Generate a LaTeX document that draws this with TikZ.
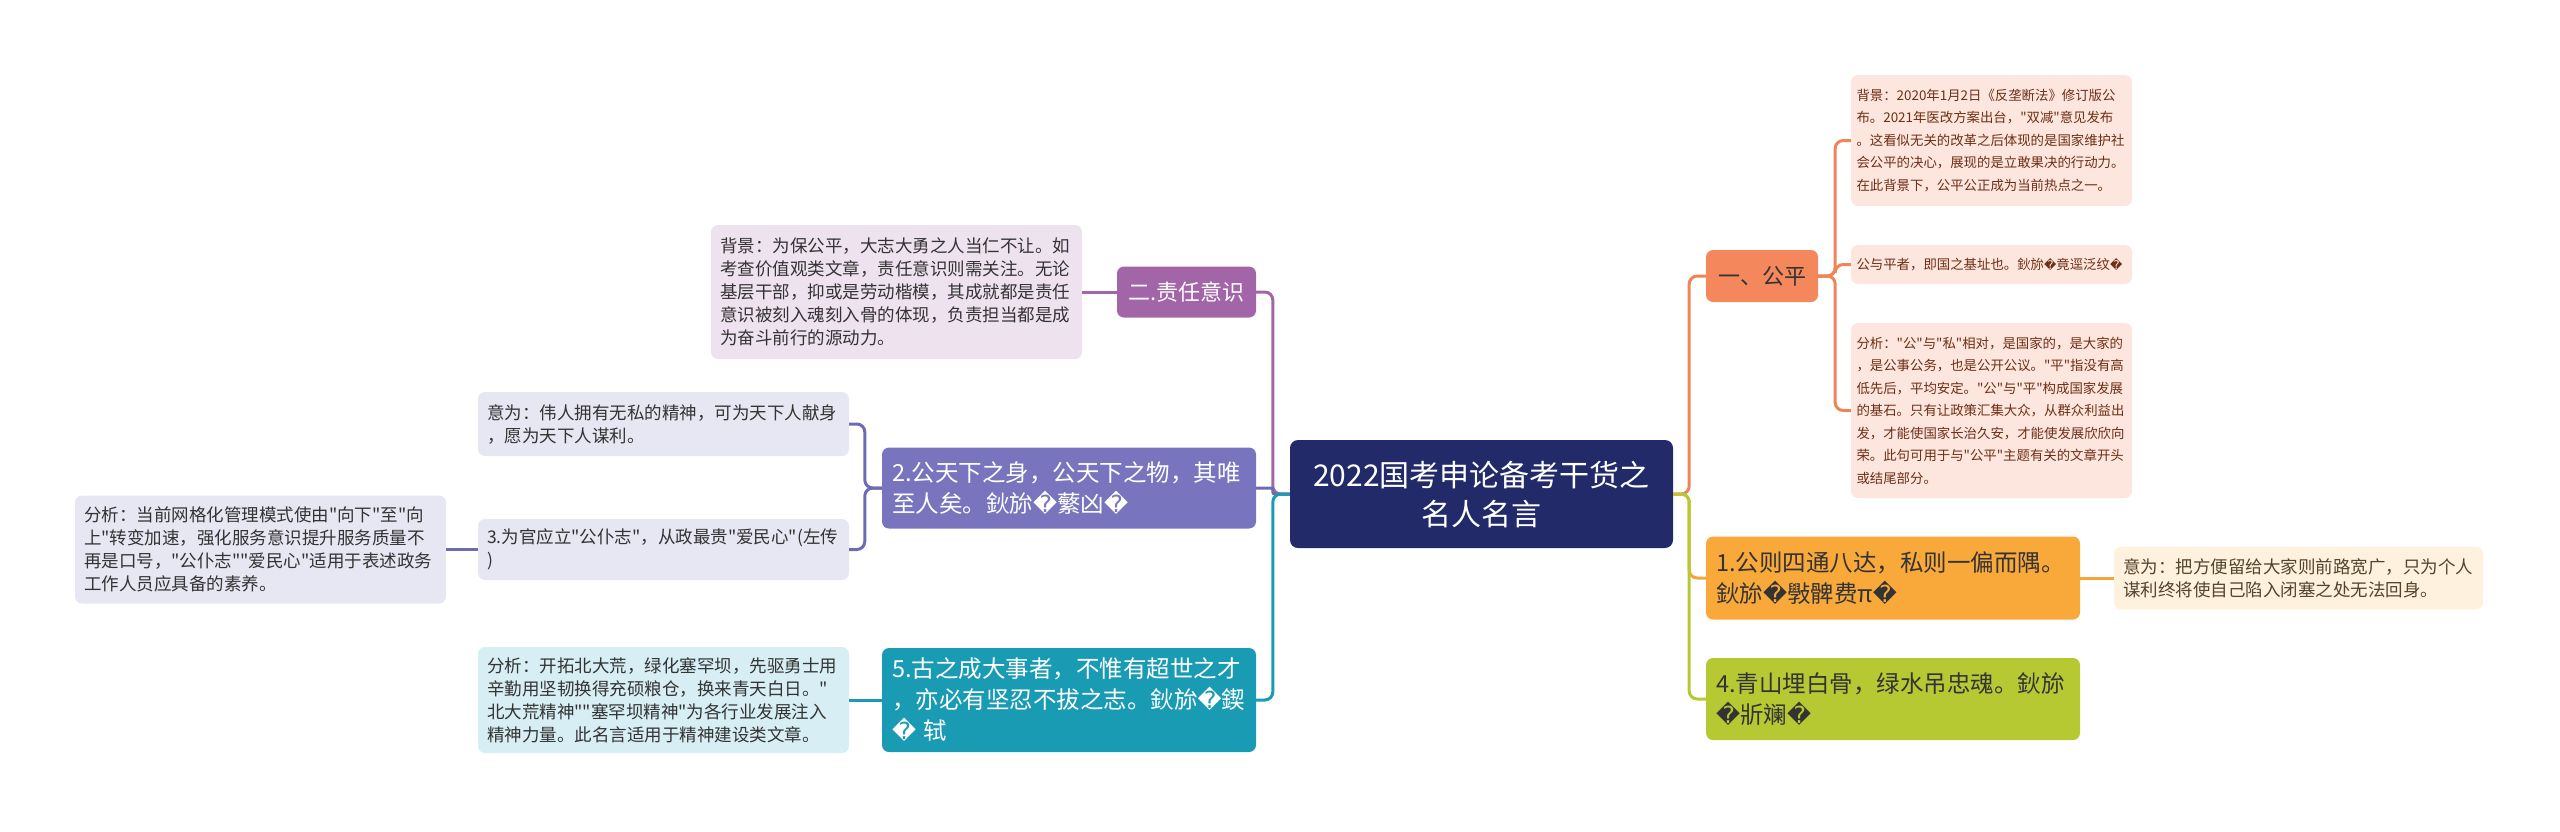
\documentclass[tikz,border=0pt]{standalone}
\usepackage{fontspec}
\setmainfont{Noto Sans CJK SC}
\newfontfamily\cjk{Noto Sans CJK SC}
\newfontfamily\dvfont{DejaVu Sans}
\newcommand\rc{{\dvfont\symbol{"FFFD}}}
\newcommand\rcs{{\dvfont\fontsize{12}{12}\selectfont\symbol{"FFFD}}}
\newcommand\fRoot{\cjk\fontsize{30}{39}\selectfont}
\newcommand\fMain{\cjk\fontsize{23.5}{31}\selectfont}
\newcommand\fNote{\cjk\fontsize{17.5}{23}\selectfont}
\newcommand\fSmall{\cjk\fontsize{13.4}{22.5}\selectfont}
\newcommand\fTop{\cjk\fontsize{22}{28}\selectfont}
\definecolor{cRoot}{HTML}{222A69}
\definecolor{cCoral}{HTML}{F5875C}
\definecolor{cCoralLine}{HTML}{EE8558}
\definecolor{cPeach}{HTML}{FDE6DD}
\definecolor{cPeachText}{HTML}{6E2E16}
\definecolor{cOrange}{HTML}{F9A93A}
\definecolor{cOrangeLine}{HTML}{F4A53C}
\definecolor{cCream}{HTML}{FEF1DE}
\definecolor{cCreamText}{HTML}{55432C}
\definecolor{cOlive}{HTML}{B6C932}
\definecolor{cPurple}{HTML}{A265A8}
\definecolor{cPurpleLight}{HTML}{EEE2EF}
\definecolor{cSlate}{HTML}{7874BD}
\definecolor{cSlateLine}{HTML}{6F6BB2}
\definecolor{cSlateLight}{HTML}{E7E6F3}
\definecolor{cTeal}{HTML}{1A9BB4}
\definecolor{cTealLight}{HTML}{D6EEF4}
\definecolor{cDark}{HTML}{333333}
\tikzset{
  box/.style={rounded corners=7pt, inner ysep=5pt, anchor=center},
  rootbox/.style={box, fill=cRoot, text=white, font=\fRoot, align=center,
    text width=363pt, inner xsep=10pt, minimum height=108pt, rounded corners=8pt},
  topbox/.style={box, fill=cCoral, text=cDark, font=\fTop, align=center,
    minimum width=112pt, minimum height=52pt},
  mainbox/.style={box, font=\fMain, align=left, text width=354pt, inner xsep=10pt},
  purplebox/.style={box, fill=cPurple, text=white, font=\fTop, align=center,
    minimum width=139pt, minimum height=51pt},
  rnote/.style={box, fill=cPeach, text=cPeachText, font=\fSmall, align=left,
    text width=270pt, inner xsep=5.5pt},
  lnote/.style={box, font=\fNote, align=left, text width=353pt, inner xsep=9pt},
  cn/.style={line width=3pt, rounded corners=8pt}
}
\begin{document}
\begin{tikzpicture}[x=1pt,y=-1pt]
\useasboundingbox (0,0) rectangle (2560,831);
% root
\node[rootbox] (root) at (1481.5,494) {2022国考申论备考干货之\\名人名言};
% right side
\node[topbox] (gp) at (1762,276) {一、公平};
\node[rnote, minimum height=131pt] (n1) at (1991.5,140.5) {背景：2020年1月2日《反垄断法》修订版公\\布。2021年医改方案出台，"双减"意见发布\\。这看似无关的改革之后体现的是国家维护社\\会公平的决心，展现的是立敢果决的行动力。\\在此背景下，公平公正成为当前热点之一。};
\node[rnote, minimum height=39pt] (n2) at (1991.5,264.5) {公与平者，即国之基址也。鈥旀\rcs 竟逕泛纹\rcs};
\node[rnote, minimum height=175pt] (n3) at (1991.5,410.5) {分析："公"与"私"相对，是国家的，是大家的\\，是公事公务，也是公开公议。"平"指没有高\\低先后，平均安定。"公"与"平"构成国家发展\\的基石。只有让政策汇集大众，从群众利益出\\发，才能使国家长治久安，才能使发展欣欣向\\荣。此句可用于与"公平"主题有关的文章开头\\或结尾部分。};
\node[mainbox, fill=cOrange, text=cDark, minimum height=83pt] (b1) at (1893,578) {1.公则四通八达，私则一偏而隅。\\鈥旀\rc 斅髀费π\rc};
\node[lnote, fill=cCream, text=cCreamText, text width=351pt, minimum height=63pt] (m1) at (2298.5,578) {意为：把方便留给大家则前路宽广，只为个人\\谋利终将使自己陷入闭塞之处无法回身。};
\node[mainbox, fill=cOlive, text=cDark, minimum height=82pt] (b4) at (1893,699) {4.青山埋白骨，绿水吊忠魂。鈥旀\\\rc 斨斓\rc};
% left side
\node[purplebox] (p) at (1186.5,292) {二.责任意识};
\node[lnote, fill=cPurpleLight, text=cDark, minimum height=134pt] (p1) at (896.5,292) {背景：为保公平，大志大勇之人当仁不让。如\\考查价值观类文章，责任意识则需关注。无论\\基层干部，抑或是劳动楷模，其成就都是责任\\意识被刻入魂刻入骨的体现，负责担当都是成\\为奋斗前行的源动力。};
\node[mainbox, fill=cSlate, text=white, minimum height=81pt] (b2) at (1069,488) {2.公天下之身，公天下之物，其唯\\至人矣。鈥旀\rc 蘩凶\rc};
\node[lnote, fill=cSlateLight, text=cDark, minimum height=64pt] (q1) at (663.5,424) {意为：伟人拥有无私的精神，可为天下人献身\\，愿为天下人谋利。};
\node[lnote, fill=cSlateLight, text=cDark, minimum height=61pt] (q2) at (663.5,549.5) {3.为官应立"公仆志"，从政最贵"爱民心"(左传\\)};
\node[lnote, fill=cSlateLight, text=cDark, minimum height=108pt] (q3) at (260.5,549.5) {分析：当前网格化管理模式使由"向下"至"向\\上"转变加速，强化服务意识提升服务质量不\\再是口号，"公仆志""爱民心"适用于表述政务\\工作人员应具备的素养。};
\node[mainbox, fill=cTeal, text=white, minimum height=104pt] (b5) at (1069,700) {5.古之成大事者，不惟有超世之才\\，亦必有坚忍不拔之志。鈥旀\rc 鍥\\\rc\ 轼};
\node[lnote, fill=cTealLight, text=cDark, minimum height=106pt] (t1) at (663.5,700) {分析：开拓北大荒，绿化塞罕坝，先驱勇士用\\辛勤用坚韧换得充硕粮仓，换来青天白日。"\\北大荒精神""塞罕坝精神"为各行业发展注入\\精神力量。此名言适用于精神建设类文章。};
% connectors right
\draw[cn, draw=cCoralLine] (root.east) -- ++(16,0) |- (gp.west);
\draw[cn, draw=cOrangeLine] (root.east) -- ++(16,0) |- (b1.west);
\draw[cn, draw=cOlive] (root.east) -- ++(16,0) |- (b4.west);
\draw[cn, draw=cCoralLine] (gp.east) -- ++(17,0) |- (n1.west);
\draw[cn, draw=cCoralLine] (gp.east) -- ++(17,0) |- (n2.west);
\draw[cn, draw=cCoralLine] (gp.east) -- ++(17,0) |- (n3.west);
\draw[cn, draw=cOrangeLine] (b1.east) -- (m1.west);
% connectors left
\draw[cn, draw=cPurple] (root.west) -- ++(-17,0) |- (p.east);
\draw[cn, draw=cSlateLine, rounded corners=2pt] (root.west) -- ++(-17,0) |- (b2.east);
\draw[cn, draw=cTeal] (root.west) -- ++(-17,0) |- (b5.east);
\draw[cn, draw=cPurple] (p.west) -- (p1.east);
\draw[cn, draw=cSlateLine] (b2.west) -- ++(-17,0) |- (q1.east);
\draw[cn, draw=cSlateLine] (b2.west) -- ++(-17,0) |- (q2.east);
\draw[cn, draw=cSlateLine] (q2.west) -- (q3.east);
\draw[cn, draw=cTeal] (b5.west) -- (t1.east);
\end{tikzpicture}
\end{document}
